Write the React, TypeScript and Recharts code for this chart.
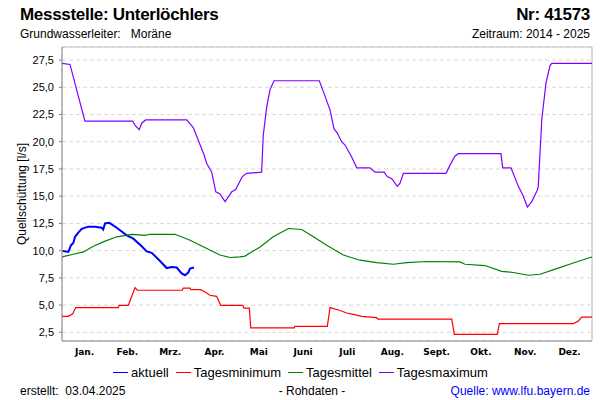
import React from "react";
import { LineChart, Line, XAxis, YAxis, CartesianGrid, ReferenceLine } from "recharts";

// day of year (0..365) and value in l/s
const aktuell = [
  [0.5, 9.97], [4.3, 9.88], [5, 10.1], [6.2, 10.5], [7.8, 10.7], [9, 11.27], [11.2, 11.66],
  [13.6, 12.0], [18.1, 12.2], [22.7, 12.2], [27.3, 12.1], [28.4, 11.94], [29.6, 12.5],
  [32.6, 12.55], [37.7, 12.1], [44.6, 11.4], [49.1, 11.1], [54.9, 10.4], [58.3, 9.93],
  [61.8, 9.8], [67.5, 9.05], [72.1, 8.4], [75.5, 8.5], [79, 8.45], [82.4, 7.9], [84.7, 7.74],
  [87, 7.99], [88.2, 8.35], [90.9, 8.45],
];

const tagesminimum = [
  [0, 3.97], [4.3, 3.97], [7.4, 4.2], [9.4, 4.77], [38.8, 4.77], [39.3, 4.98], [45.7, 4.98],
  [50.3, 6.6], [51.9, 6.36], [82.9, 6.36], [83.5, 6.55], [88.2, 6.55], [88.8, 6.42],
  [95.5, 6.42], [98.5, 6.2], [101.9, 5.9], [106.5, 5.8], [109.3, 4.98], [124.5, 4.98],
  [125.3, 4.72], [129, 4.72], [130, 2.9], [160, 2.9], [160.4, 3.05], [182.7, 3.05],
  [184.6, 4.77], [191.5, 4.5], [196.1, 4.27], [200.6, 4.15], [206.4, 3.97], [216.7, 3.85],
  [217.6, 3.7], [268.4, 3.7], [270.2, 2.3], [299.8, 2.3], [301.2, 3.3], [352.1, 3.3],
  [355.6, 3.54], [357.9, 3.9], [365, 3.9],
];

const tagesmittel = [
  [0, 9.43], [7.8, 9.67], [14.7, 9.88], [21.6, 10.4], [28.4, 10.8], [37.7, 11.27], [48, 11.5],
  [57.2, 11.4], [60.6, 11.5], [77.8, 11.5], [88.2, 10.95], [99.7, 10.2], [108.8, 9.6],
  [115.7, 9.37], [122.6, 9.43], [126, 9.5], [136.4, 10.34], [145.5, 11.27], [155.9, 12.03],
  [165.1, 11.94], [173.1, 11.27], [182.3, 10.5], [193.7, 9.6], [205.2, 9.12], [216.7, 8.9],
  [228.2, 8.75], [237.4, 8.9], [251.2, 9.0], [274.1, 8.96], [277.5, 8.75], [291.3, 8.63],
  [302.8, 8.1], [310.8, 7.99], [321.1, 7.74], [329.2, 7.83], [340.7, 8.35], [352.1, 8.86],
  [363.6, 9.37], [365, 9.4],
];

const tagesmaximum = [
  [0, 27.2], [5.5, 27.1], [15.8, 21.9], [48.7, 21.9], [50.3, 21.5], [53.2, 21.1], [54.9, 21.7],
  [57.6, 22.0], [85.9, 22.0], [90.4, 21.3], [97.8, 18.8], [99.7, 18.0], [103.1, 17.2],
  [105.9, 15.4], [108.8, 15.2], [112.3, 14.5], [116.9, 15.4], [119.6, 15.6], [124.2, 16.8],
  [127.2, 17.1], [137.5, 17.2], [138.6, 20.6], [141, 23.2], [143.3, 24.8], [146, 25.6],
  [177.2, 25.6], [180, 24.6], [184.6, 22.9], [187.3, 21.2], [189.6, 20.8], [192.6, 20.0],
  [194.9, 19.7], [199.5, 18.6], [203, 17.6], [212.1, 17.6], [215.6, 17.2], [221.8, 17.2],
  [224, 16.8], [227.1, 16.6], [230.9, 15.9], [232.8, 16.2], [235.1, 17.1], [264.5, 17.1],
  [267.2, 17.85], [270.7, 18.7], [272.9, 18.9], [302.3, 18.9], [303.5, 17.6], [309.2, 17.6],
  [314.3, 15.9], [317.7, 15.0], [320.5, 14.0], [323.5, 14.5], [327.3, 15.55], [328, 15.9],
  [330.4, 22.0], [333.3, 25.4], [336.1, 27.0], [337.3, 27.2], [365, 27.2],
];

const monthBounds = [0, 31, 59, 90, 120, 151, 181, 212, 243, 273, 304, 334, 365];
const monthCenters = [15.5, 45, 74.5, 105, 135.5, 166, 196.5, 227.5, 258, 288.5, 319, 349.5];
const monthLabels = ["Jan.", "Feb.", "Mrz.", "Apr.", "Mai", "Juni", "Juli", "Aug.", "Sept.", "Okt.", "Nov.", "Dez."];
const yTicks = [2.5, 5, 7.5, 10, 12.5, 15, 17.5, 20, 22.5, 25, 27.5];

const toPts = (arr: number[][]) => arr.map(([d, v]) => ({ d, v }));

const series = [
  { name: "aktuell", color: "#0000ff", data: toPts(aktuell), width: 2, axis: "m" },
  { name: "Tagesminimum", color: "#ff0000", data: toPts(tagesminimum), width: 1.2, axis: "b" },
  { name: "Tagesmittel", color: "#008000", data: toPts(tagesmittel), width: 1.2, axis: "b" },
  { name: "Tagesmaximum", color: "#8000ff", data: toPts(tagesmaximum), width: 1.2, axis: "b" },
];

const font = "'Liberation Sans', Arial, sans-serif";

const MonthTick = (props: any) => {
  const { x, y, payload } = props;
  const i = monthCenters.indexOf(payload.value);
  return (
    <text
      x={x}
      y={y}
      dy={9}
      textAnchor="middle"
      fontFamily="'DejaVu Sans', Verdana, sans-serif"
      fontSize={9}
      fontWeight="bold"
      fill="#000"
    >
      {monthLabels[i]}
    </text>
  );
};

export default function App() {
  const abs = (s: React.CSSProperties): React.CSSProperties => ({
    position: "absolute",
    fontFamily: font,
    whiteSpace: "nowrap",
    lineHeight: 1,
    ...s,
  });
  return (
    <div style={{ position: "absolute", left: 0, top: 0, width: 600, height: 400, background: "#fff", overflow: "hidden" }}>
      <LineChart width={600} height={400} margin={{ top: 47, right: 8, left: 0, bottom: 31 }}>
        <CartesianGrid stroke="#d9d9d9" strokeDasharray="4 3" xAxisId="b" />
        <XAxis
          xAxisId="b"
          type="number"
          dataKey="d"
          domain={[0, 365]}
          ticks={monthBounds}
          tick={false}
          tickSize={5}
          height={5}
          stroke="#808080"
          allowDataOverflow
        />
        <XAxis
          xAxisId="m"
          type="number"
          dataKey="d"
          domain={[0, 365]}
          ticks={monthCenters}
          axisLine={false}
          tickLine={false}
          tickSize={0}
          tickMargin={0}
          height={23}
          interval={0}
          allowDataOverflow
          tick={<MonthTick />}
        />
        <YAxis
          type="number"
          domain={[1.7, 28.7]}
          ticks={yTicks}
          width={62}
          interval={0}
          allowDataOverflow
          stroke="#808080"
          tickSize={3}
          tickMargin={5}
          tickFormatter={(v: number) => v.toFixed(1).replace(".", ",")}
          tick={{ fontFamily: font, fontSize: 11, fill: "#000" }}
        />
        <ReferenceLine xAxisId="b" x={365} stroke="#c0c0c0" strokeWidth={1} />
        <ReferenceLine xAxisId="b" y={28.7} stroke="#c0c0c0" strokeWidth={1} />
        {series.map((s) => (
          <Line
            key={s.name}
            xAxisId={s.axis}
            data={s.data}
            dataKey="v"
            type="linear"
            stroke={s.color}
            strokeWidth={s.width}
            dot={false}
            activeDot={false}
            isAnimationActive={false}
          />
        ))}
      </LineChart>

      <div style={abs({ left: 20, top: 6, fontSize: 17, fontWeight: "bold", letterSpacing: -0.3 })}>Messstelle: Unterlöchlers</div>
      <div style={abs({ right: 10, top: 6, fontSize: 17, fontWeight: "bold", letterSpacing: -0.3 })}>Nr: 41573</div>
      <div style={abs({ left: 20, top: 28, fontSize: 12 })}>Grundwasserleiter:&nbsp;&nbsp;&nbsp;Moräne</div>
      <div style={abs({ right: 10, top: 28, fontSize: 12 })}>Zeitraum: 2014 - 2025</div>

      <div
        style={abs({
          left: 22,
          top: 194,
          fontSize: 12,
          transform: "translate(-50%, -50%) rotate(-90deg)",
        })}
      >
        Quellschüttung [l/s]
      </div>

      <div style={abs({ left: 0, width: 600, top: 366, display: "flex", justifyContent: "center", fontSize: 13 })}>
        <div style={{ display: "flex", alignItems: "center", marginLeft: 8 }}>
          {series.map((s) => (
            <div key={s.name} style={{ display: "flex", alignItems: "center", marginRight: 7 }}>
              <div style={{ width: 15, height: 0, borderTop: `1.5px solid ${s.color}`, marginRight: 3 }} />
              <span>{s.name}</span>
            </div>
          ))}
        </div>
      </div>

      <div style={abs({ left: 20, top: 385, fontSize: 12 })}>erstellt:&nbsp;&nbsp;03.04.2025</div>
      <div style={abs({ left: 312, top: 385, fontSize: 12, transform: "translateX(-50%)" })}>- Rohdaten -</div>
      <div style={abs({ right: 10, top: 385, fontSize: 12, color: "#0000ff" })}>Quelle: www.lfu.bayern.de</div>
    </div>
  );
}
